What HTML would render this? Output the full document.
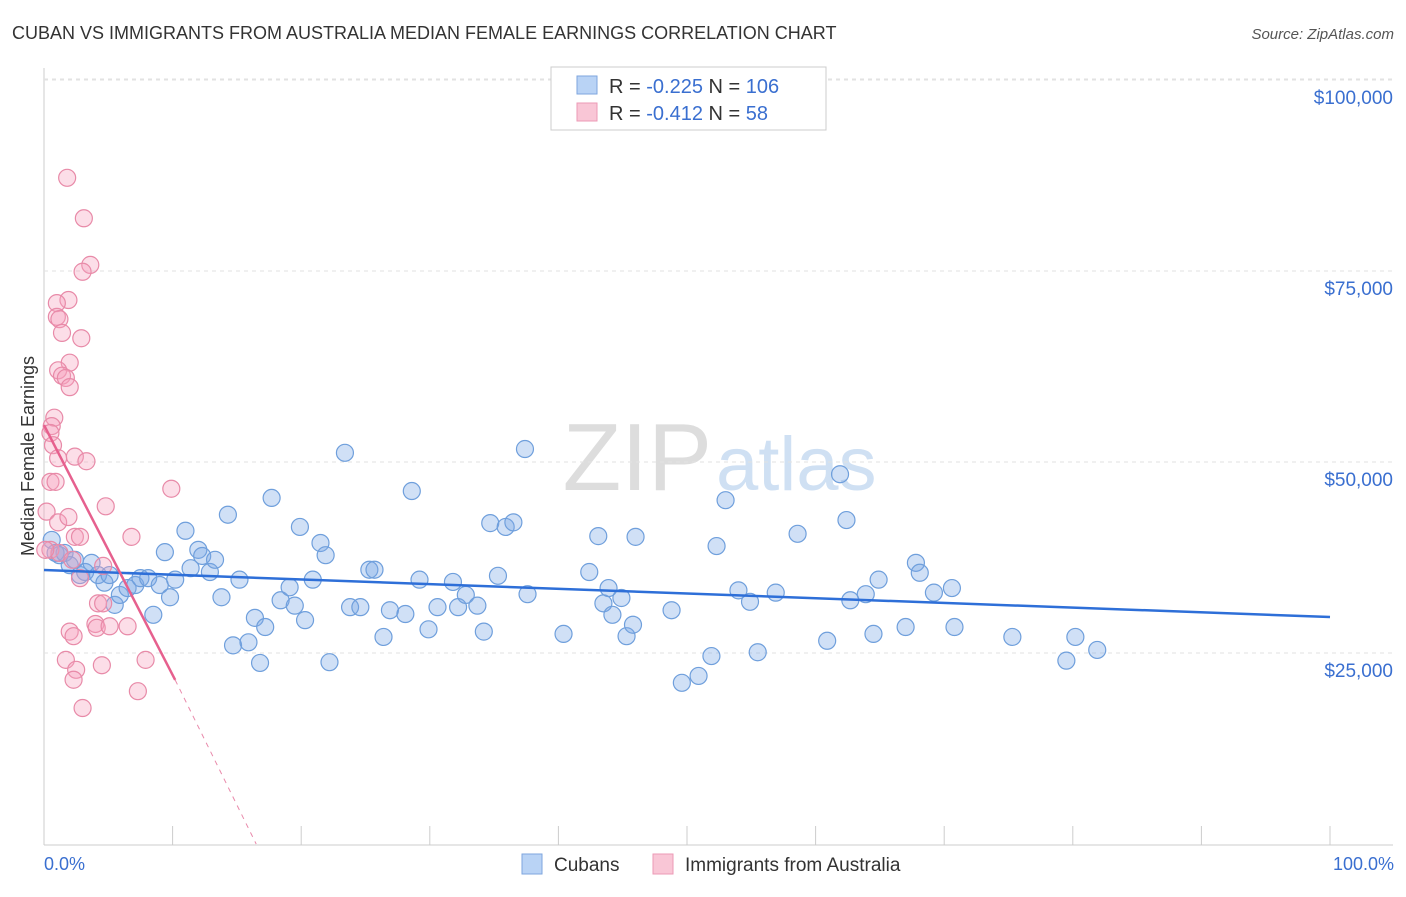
<!DOCTYPE html>
<html><head><meta charset="utf-8"><style>
body{margin:0;background:#fff;font-family:"Liberation Sans",sans-serif;}
svg text{font-family:"Liberation Sans",sans-serif;}
</style></head><body>
<svg id="c" width="1406" height="892">
<text x="12" y="39" font-size="18" fill="#333">CUBAN VS IMMIGRANTS FROM AUSTRALIA MEDIAN FEMALE EARNINGS CORRELATION CHART</text>
<text x="1394" y="39" font-size="15" fill="#555" text-anchor="end" font-style="italic">Source: ZipAtlas.com</text>
<text x="712" y="490" font-size="96" fill="#ddd" text-anchor="end" font-family="Liberation Serif">ZIP</text>
<text x="716" y="490" font-size="76" fill="#cfe0f3">atlas</text>
<text transform="translate(34,456) rotate(-90)" font-size="18" fill="#333" text-anchor="middle">Median Female Earnings</text>
<g id="grid"></g><g id="marks"></g>
<text x="44" y="870" font-size="18" fill="#3a6fd0">0.0%</text>
<text x="1394" y="870" font-size="18" fill="#3a6fd0" text-anchor="end">100.0%</text>
<g>
<rect x="551" y="67" width="275" height="63" fill="#fff" stroke="#ccc"/>
<rect x="577" y="76" width="20" height="18" fill="#b9d3f5" stroke="#7ea6de"/>
<rect x="577" y="103" width="20" height="18" fill="#f9c6d6" stroke="#ec9ab6"/>
<text x="609" y="93" font-size="20" fill="#333">R = <tspan fill="#3a6fd0">-0.225</tspan>   N = <tspan fill="#3a6fd0">106</tspan></text>
<text x="609" y="120" font-size="20" fill="#333">R = <tspan fill="#3a6fd0">-0.412</tspan>   N = <tspan fill="#3a6fd0">  58</tspan></text>
</g>
<g>
<rect x="522" y="854" width="20" height="20" fill="#b9d3f5" stroke="#7ea6de"/>
<text x="554" y="871" font-size="19" fill="#333">Cubans</text>
<rect x="653" y="854" width="20" height="20" fill="#f9c6d6" stroke="#ec9ab6"/>
<text x="685" y="871" font-size="19" fill="#333">Immigrants from Australia</text>
</g>
</svg>
<script>
const yTicks=[25000,50000,75000,100000];
const yTickLabels=["$25,000","$50,000","$75,000","$100,000"];
const blueX=[0.6,0.9,1.2,1.6,2.0,2.4,2.8,3.2,3.7,4.2,4.7,5.1,5.5,5.9,6.5,7.1,7.5,8.1,8.5,9.0,9.4,9.8,10.2,11.0,11.4,12.0,12.3,12.9,13.3,13.8,14.3,14.7,15.2,15.9,16.4,16.8,17.2,17.7,18.4,19.1,19.5,19.9,20.3,20.9,21.5,21.9,22.2,23.4,23.8,24.6,25.3,25.7,26.4,26.9,28.1,28.6,29.2,29.9,30.6,31.8,32.2,32.8,33.7,34.2,34.7,35.9,36.5,35.3,37.4,37.6,40.4,42.4,43.1,43.5,43.9,44.2,44.9,45.3,45.8,46.0,48.8,49.6,50.9,51.9,52.3,53.0,54.0,54.9,55.5,56.9,58.6,60.9,61.9,62.4,62.7,63.9,64.5,64.9,67.0,67.8,68.1,69.2,70.6,70.8,75.3,79.5,80.2,81.9];
const blueY=[39.8,38.1,37.8,38.1,36.5,37.2,35.2,35.6,36.8,35.2,34.2,35.2,31.3,32.6,33.5,33.9,34.8,34.8,30.0,33.9,38.2,32.3,34.6,41.0,36.1,38.5,37.7,35.6,37.2,32.3,43.1,26.0,34.6,26.4,29.6,23.7,28.4,45.3,31.9,33.6,31.2,41.5,29.3,34.6,39.4,37.8,23.8,51.2,31.0,31.0,35.9,35.9,27.1,30.6,30.1,46.2,34.6,28.1,31.0,34.3,31.0,32.6,31.2,27.8,42.0,41.5,42.1,35.1,51.7,32.7,27.5,35.6,40.3,31.5,33.5,30.0,32.2,27.2,28.7,40.2,30.6,21.1,22.0,24.6,39.0,45.0,33.2,31.7,25.1,32.9,40.6,26.6,48.4,42.4,31.9,32.7,27.5,34.6,28.4,36.8,35.5,32.9,33.5,28.4,27.1,24.0,27.1,25.4];
const pinkX=[1.8,3.1,3.6,3.0,1.9,1.0,1.0,1.2,1.4,2.9,2.0,1.1,1.4,1.7,2.0,0.8,0.6,0.5,0.7,1.1,2.4,3.3,0.5,0.9,0.2,1.1,1.9,2.4,2.8,4.8,6.8,9.9,0.5,1.2,2.2,4.6,2.8,4.2,4.6,4.0,4.1,5.1,6.5,2.0,2.3,1.7,4.5,7.9,2.5,2.3,7.3,3.0,0.1];
const pinkY=[87.2,81.9,75.8,74.9,71.2,70.8,69.0,68.7,66.9,66.2,63.0,62.0,61.3,61.0,59.8,55.8,54.7,53.8,52.2,50.5,50.7,50.1,47.4,47.4,43.5,42.1,42.8,40.2,40.2,44.2,40.2,46.5,38.5,38.1,37.2,36.4,34.8,31.5,31.5,28.8,28.3,28.5,28.5,27.8,27.2,24.1,23.4,24.1,22.8,21.5,20.0,17.8,38.5];
const blueTrend=[[0,35.86],[100,29.71]];
const pinkTrendSolid=[[0,54.84],[10.2,21.47]];
const pinkTrendDash=[[10.2,21.47],[16.5,0]];
const X=v=>44+v*12.86, Y=v=>844-v/25*191, Yd=v=>844-v/25000*191;
const NS="http://www.w3.org/2000/svg";
function mk(t,a,p){const e=document.createElementNS(NS,t);for(const k in a)e.setAttribute(k,a[k]);p.appendChild(e);return e;}
const g=document.getElementById('grid'),m=document.getElementById('marks');
mk('line',{x1:44,y1:68,x2:44,y2:845,stroke:'#ccc'},g);
mk('line',{x1:44,y1:845,x2:1393,y2:845,stroke:'#ccc'},g);
mk('line',{x1:44,y1:79,x2:1393,y2:79,stroke:'#e2e2e2','stroke-dasharray':'4,4'},g);
yTicks.forEach((t,i)=>{
 const l=mk('line',{x1:44,y1:Yd(t),x2:1393,y2:Yd(t),stroke:'#e2e2e2','stroke-dasharray':'4,4'},g);
 
 
 const tx=mk('text',{x:1393,y:Yd(t)+24,'font-size':19,fill:'#3a6fd0','text-anchor':'end'},g);
 tx.textContent=yTickLabels[i];
 
 
});
for(let i=1;i<=10;i++){const l=mk('line',{x1:X(i*10),y1:826,x2:X(i*10),y2:845,stroke:'#ccc'},g);
 
 }
blueX.forEach((x,i)=>{const c=mk('circle',{cx:X(x),cy:Y(blueY[i]),r:8.5,fill:'rgba(120,165,230,0.35)',stroke:'#6f9fdc','stroke-width':1.2},m);
 
 });
pinkX.forEach((x,i)=>{const c=mk('circle',{cx:X(x),cy:Y(pinkY[i]),r:8.5,fill:'rgba(245,160,190,0.35)',stroke:'#e88aa8','stroke-width':1.2},m);
 
 });
const bl=mk('line',{x1:X(blueTrend[0][0]),y1:Y(blueTrend[0][1]),x2:X(blueTrend[1][0]),y2:Y(blueTrend[1][1]),stroke:'#2e6fd8','stroke-width':2.5},m);


const pl=mk('line',{x1:X(pinkTrendSolid[0][0]),y1:Y(pinkTrendSolid[0][1]),x2:X(pinkTrendSolid[1][0]),y2:Y(pinkTrendSolid[1][1]),stroke:'#e6608e','stroke-width':2.5},m);


const pd=mk('line',{x1:X(pinkTrendDash[0][0]),y1:Y(pinkTrendDash[0][1]),x2:X(pinkTrendDash[1][0]),y2:Y(pinkTrendDash[1][1]),stroke:'#e98aab','stroke-width':1,'stroke-dasharray':'5,5'},m);


</script>
</body></html>
